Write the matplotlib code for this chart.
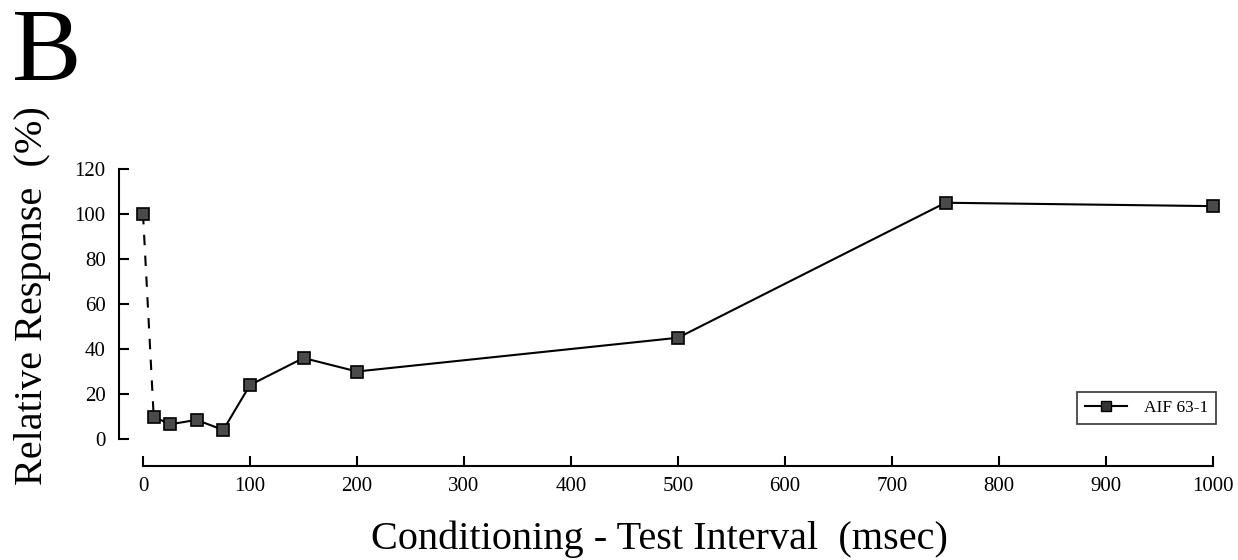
import matplotlib
matplotlib.use('Agg')
import matplotlib.pyplot as plt
from matplotlib.lines import Line2D

# ── 데이터 ────────────────────────────────────────────────
interval_ms = [0, 10, 25, 50, 75, 100, 150, 200, 500, 750, 1000]
response_pct = [100, 10, 6.5, 8.5, 4, 24, 36, 30, 45, 105, 103.5]
series_name = 'AIF 63-1'

x_ticks = [0, 100, 200, 300, 400, 500, 600, 700, 800, 900, 1000]
y_ticks = [0, 20, 40, 60, 80, 100, 120]

plt.rcParams['font.family'] = ['Liberation Serif', 'DejaVu Serif']

fig = plt.figure(figsize=(12.38, 5.6), dpi=100)
ax = fig.add_axes([143 / 1238, 1 - 439 / 560, (1213 - 143) / 1238, (439 - 169) / 560])

mk = dict(marker='s', markersize=9, markerfacecolor='#4a4a4a',
          markeredgecolor='black', markeredgewidth=1.2)

# 첫 구간은 점선, 나머지는 실선
ax.plot(interval_ms[:2], response_pct[:2], color='black', lw=1.5,
        ls=(0, (5, 5)), clip_on=False, zorder=2)
ax.plot(interval_ms[1:], response_pct[1:], color='black', lw=1.5,
        clip_on=False, zorder=2)
ax.plot(interval_ms, response_pct, ls='none', clip_on=False, zorder=3, **mk)

ax.set_xlim(0, 1000)
ax.set_ylim(0, 120)
ax.set_xticks(x_ticks)
ax.set_yticks(y_ticks)

for s in ['top', 'right']:
    ax.spines[s].set_visible(False)
ax.spines['left'].set_position(('outward', 17))
ax.spines['bottom'].set_position(('outward', 19.5))
ax.spines['left'].set_linewidth(1.5)
ax.spines['bottom'].set_linewidth(1.5)

ax.tick_params(axis='both', direction='in', length=7, width=1.5, labelsize=15)
ax.tick_params(axis='y', pad=10)
ax.tick_params(axis='x', pad=8)

handle = Line2D([], [], color='black', lw=1.5, marker='s', markersize=7,
                markerfacecolor='#333333', markeredgecolor='black')
leg = ax.legend([handle], [series_name], loc='lower right',
                bbox_to_anchor=(1.003, 0.056), fontsize=12.5, frameon=True,
                fancybox=False, edgecolor='black', handlelength=2.4,
                handletextpad=1.0, borderpad=0.45, borderaxespad=0)
leg.get_frame().set_linewidth(1.2)

fig.text(0.010, 0.985, 'B', fontsize=75, va='top', ha='left')
fig.text(0.026, 1 - 296 / 560, 'Relative Response  (%)', fontsize=29, rotation=90,
         va='center', ha='center')
fig.text(659 / 1238, 11 / 560, 'Conditioning - Test Interval  (msec)', fontsize=29,
         va='baseline', ha='center')

fig.savefig('out.png', dpi=100)
